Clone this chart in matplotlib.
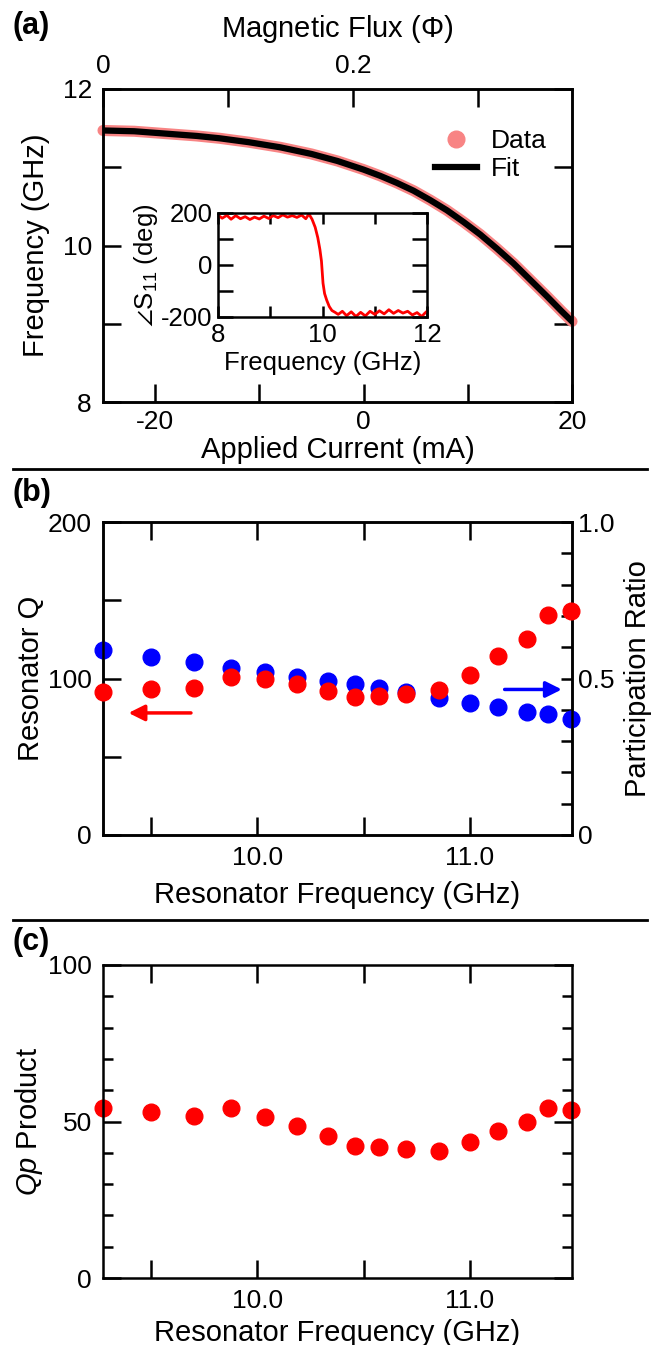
import numpy as np
import matplotlib
matplotlib.use("Agg")
import matplotlib.pyplot as plt
from matplotlib.lines import Line2D

plt.rcParams['font.family'] = ['Liberation Sans', 'DejaVu Sans']
plt.rcParams['mathtext.fontset'] = 'custom'
plt.rcParams['mathtext.rm'] = 'Liberation Sans'
plt.rcParams['mathtext.it'] = 'Liberation Sans:italic'
plt.rcParams['mathtext.fallback'] = 'stixsans'
plt.rcParams['font.size'] = 19
plt.rcParams['axes.labelsize'] = 21
plt.rcParams['axes.linewidth'] = 1.8

# (a) resonator frequency vs applied current
current_ma = [-25.0, -22.0, -19.0, -16.0, -13.8, -11.0, -8.0, -5.0, -2.5, 0.0, 1.6, 3.2,
              4.8, 6.4, 8.0, 9.6, 11.2, 12.8, 14.4, 16.0, 17.6, 19.0, 20.0]
freq_ghz = [11.47, 11.46, 11.43, 11.40, 11.37, 11.32, 11.255, 11.17, 11.08, 10.97, 10.89, 10.80,
            10.70, 10.58, 10.45, 10.30, 10.14, 9.96, 9.77, 9.56, 9.35, 9.16, 9.03]
ma_per_flux = 120.0

# inset: reflection phase
inset_freq = [8.00, 8.08, 8.17, 8.25, 8.34, 8.43, 8.52, 8.61, 8.70, 8.79,
              8.88, 8.97, 9.06, 9.15, 9.24, 9.33, 9.42, 9.51, 9.60, 9.68,
              9.74, 9.80, 9.86, 9.91, 9.95, 9.98, 10.01, 10.04, 10.08, 10.13,
              10.18, 10.24, 10.30, 10.38, 10.46, 10.55, 10.64, 10.73, 10.82, 10.91,
              11.00, 11.09, 11.18, 11.27, 11.36, 11.45, 11.54, 11.63, 11.72, 11.81,
              11.90, 11.96, 12.00]
inset_phase = [192, 180, 191, 176, 190, 178, 186, 175, 184, 177,
               188, 179, 190, 182, 193, 184, 190, 183, 192, 178,
               196, 176, 145, 105, 60, 15, -70, -110, -135, -160,
               -175, -182, -190, -178, -195, -180, -198, -182, -196, -178,
               -190, -176, -188, -172, -186, -175, -185, -178, -192, -183,
               -198, -185, -178]

# (b), (c) resonator Q, participation ratio and Qp product
res_freq = [9.273, 9.497, 9.701, 9.875, 10.034, 10.186, 10.331, 10.457,
            10.570, 10.699, 10.853, 11.000, 11.131, 11.267, 11.366, 11.477]
res_q = [91.5, 93.2, 94.0, 101.1, 99.4, 96.2, 91.9, 87.9,
         88.7, 90.4, 92.6, 102.1, 114.3, 125.1, 140.4, 143.2]
part_ratio = [0.590, 0.569, 0.553, 0.535, 0.521, 0.505, 0.491, 0.481,
              0.471, 0.458, 0.439, 0.423, 0.410, 0.394, 0.385, 0.372]
qp_product = [54.2, 53.1, 51.7, 54.2, 51.5, 48.6, 45.3, 42.1,
              41.7, 41.3, 40.7, 43.5, 47.0, 49.8, 54.2, 53.6]

W, H = 660, 1345
def box(l, t, r, b):
    return [l / W, 1 - b / H, (r - l) / W, (b - t) / H]

PINK = '#f88484'
fig = plt.figure(figsize=(6.6, 13.45), dpi=100)

def style(ax, ticklen=13):
    ax.tick_params(direction='in', length=ticklen, width=1.8, pad=8)

# ---------- panel (a) ----------
axa = fig.add_axes(box(103, 89, 572, 402))
axa.plot(current_ma, freq_ghz, color=PINK, lw=8, solid_capstyle='round',
         clip_on=False, zorder=2)
axa.plot(current_ma, freq_ghz, color='black', lw=4.5, zorder=3)
axa.set_xlim(-25, 20)
axa.set_ylim(8, 12)
axa.set_xticks([-20, -10, 0, 10, 20])
axa.set_xticklabels(['-20', '', '0', '', '20'])
axa.set_yticks([8, 9, 10, 11, 12])
axa.set_yticklabels(['8', '', '10', '', '12'])
axa.tick_params(axis='y', right=True)
style(axa)
axa.tick_params(axis='x', pad=6)
axa.set_xlabel('Applied Current (mA)', labelpad=1)
axa.set_ylabel('Frequency (GHz)', labelpad=9)
h_data = Line2D([], [], color=PINK, marker='o', ls='none', ms=12)
h_fit = Line2D([], [], color='black', lw=4.5)
axa.legend([h_data, h_fit], ['Data', 'Fit'], loc='upper right', frameon=False,
           bbox_to_anchor=(0.985, 0.93), handlelength=1.6, handletextpad=0.5,
           labelspacing=0.15, borderpad=0.2)

top = axa.twiny()
top.set_xlim(0, (20 - (-25)) / ma_per_flux)
top.set_xticks([0, 0.1, 0.2, 0.3])
top.set_xticklabels(['0', '', '0.2', ''])
style(top)
top.set_xlabel('Magnetic Flux ($\\Phi$)', labelpad=12)

axi = fig.add_axes(box(218, 213, 427, 317))
axi.plot(inset_freq, inset_phase, color='red', lw=2)
axi.set_xlim(8, 12)
axi.set_ylim(-200, 200)
axi.set_xticks([8, 9, 10, 11, 12])
axi.set_xticklabels(['8', '', '10', '', '12'])
axi.set_yticks([-200, -100, 0, 100, 200])
axi.set_yticklabels(['-200', '', '0', '', '200'])
axi.tick_params(direction='in', width=1.8, top=True, right=True, labelsize=18.5, pad=4)
axi.tick_params(axis='y', length=11)
axi.tick_params(axis='x', length=8)
axi.set_xlabel('Frequency (GHz)', fontsize=18.5, labelpad=3)
axi.set_ylabel('$\\angle$S$_{11}$ (deg)', fontsize=18.5, labelpad=1)

# ---------- panel (b) ----------
axb = fig.add_axes(box(103, 522, 572, 835))
axb.plot(res_freq, res_q, 'o', color='red', ms=12, clip_on=False, zorder=4)
axb.set_xlim(9.273, 11.48)
axb.set_ylim(0, 200)
axb.set_yticks([0, 50, 100, 150, 200])
axb.set_yticklabels(['0', '', '100', '', '200'])
axb.set_xticks([9.5, 10.0, 10.5, 11.0])
axb.set_xticklabels(['', '10.0', '', '11.0'])
axb.tick_params(axis='x', top=True)
style(axb)
axb.set_xlabel('Resonator Frequency (GHz)', labelpad=8)
axb.set_ylabel('Resonator Q', labelpad=2)

axb2 = axb.twinx()
axb2.plot(res_freq, part_ratio, 'o', color='blue', ms=12, clip_on=False, zorder=3)
axb2.set_ylim(0, 1.0)
axb2.set_yticks(np.arange(0, 1.01, 0.1))
axb2.set_yticklabels(['0', '', '', '', '', '0.5', '', '', '', '', '1.0'])
axb2.tick_params(direction='in', length=8, width=1.8, pad=4)
axb2.set_ylabel('Participation Ratio', labelpad=7)
axb.set_zorder(axb2.get_zorder() + 1)
axb.patch.set_visible(False)

axb.annotate('', xy=(9.38, 78), xytext=(9.70, 78),
             arrowprops=dict(arrowstyle='-|>', color='red', lw=2.5, mutation_scale=24))
axb2.annotate('', xy=(11.445, 0.465), xytext=(11.15, 0.465),
              arrowprops=dict(arrowstyle='-|>', color='blue', lw=2.5, mutation_scale=24))

# ---------- panel (c) ----------
axc = fig.add_axes(box(103, 965, 572, 1278))
axc.plot(res_freq, qp_product, 'o', color='red', ms=12, clip_on=False)
axc.set_xlim(9.273, 11.48)
axc.set_ylim(0, 100)
axc.set_yticks([0, 50, 100])
axc.set_yticks(np.arange(0, 101, 10), minor=True)
axc.set_xticks([9.5, 10.0, 10.5, 11.0])
axc.set_xticklabels(['', '10.0', '', '11.0'])
axc.tick_params(direction='in', width=1.8, top=True, right=True, pad=8)
axc.tick_params(which='major', length=13)
axc.tick_params(which='minor', direction='in', length=7, width=1.8, right=True, left=True)
axc.set_xlabel('Resonator Frequency (GHz)', labelpad=4)
axc.set_ylabel('$Qp$ Product', labelpad=2)

# panel letters and separators
for lbl, y in [('(a)', 26), ('(b)', 493), ('(c)', 942)]:
    fig.text(12 / W, 1 - y / H, lbl, fontsize=22, fontweight='bold', va='center', ha='left')
for y in [469, 920]:
    fig.add_artist(Line2D([13 / W, 647 / W], [1 - y / H, 1 - y / H], color='black', lw=2))

fig.savefig('out.png', dpi=100)
